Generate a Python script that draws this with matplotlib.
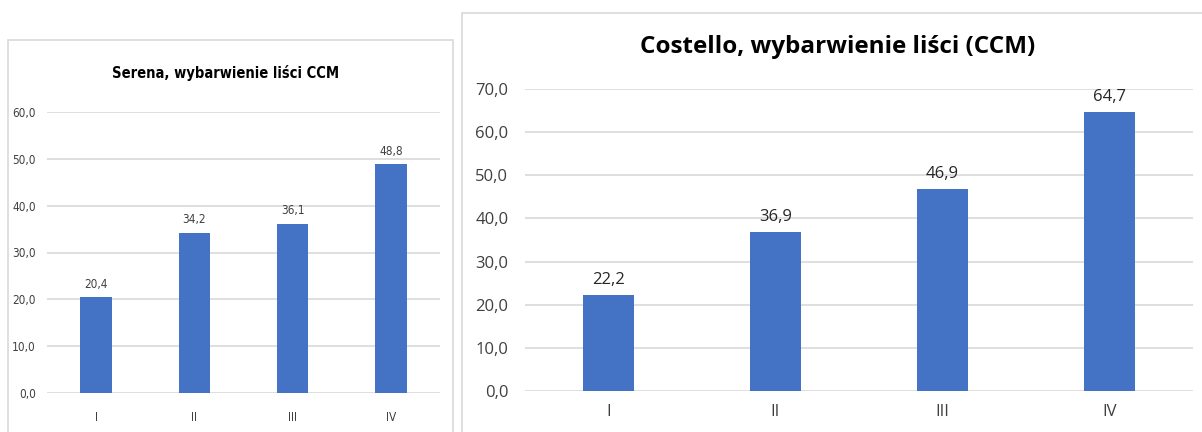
import matplotlib
matplotlib.use("Agg")
import matplotlib.pyplot as plt
from matplotlib.patches import Rectangle

categories = ["I", "II", "III", "IV"]
serena_values = [20.4, 34.2, 36.1, 48.8]
costello_values = [22.2, 36.9, 46.9, 64.7]
serena_title = "Serena, wybarwienie liści CCM"
costello_title = "Costello, wybarwienie liści (CCM)"

W, H = 1202, 432
fig = plt.figure(figsize=(W / 100, H / 100), dpi=100)
fig.patch.set_facecolor("white")

def px_rect(x0, y0, x1, y1):
    return [x0 / W, 1 - y1 / H, (x1 - x0) / W, (y1 - y0) / H]

# chart boxes
for (x0, y0, x1, y1) in [(8, 40, 453, 440), (462, 13, 1210, 440)]:
    fig.patches.append(Rectangle((x0 / W, 1 - y1 / H), (x1 - x0) / W, (y1 - y0) / H,
                                 transform=fig.transFigure, fill=False,
                                 edgecolor="#d9d9d9", linewidth=1.2))

bar_color = "#4472c4"
grid_color = "#d9d9d9"

def draw(ax, values, ymax, fam, stretch, tick_fs, label_fs, xtick_pad, ytick_pad,
         width, tcolor, lcolor):
    x = range(len(categories))
    ax.bar(x, values, width=width, color=bar_color, zorder=3)
    ax.set_ylim(0, ymax)
    ax.set_xlim(-0.5, len(categories) - 0.5)
    ax.set_yticks(range(0, ymax + 1, 10))
    ax.set_yticklabels([f"{v},0" for v in range(0, ymax + 1, 10)],
                       fontsize=tick_fs, color=tcolor, family=fam, fontstretch=stretch)
    ax.set_xticks(list(x))
    ax.set_xticklabels(categories, fontsize=tick_fs, color=tcolor, family=fam,
                       fontstretch=stretch)
    ax.tick_params(axis="both", length=0)
    ax.tick_params(axis="x", pad=xtick_pad)
    ax.tick_params(axis="y", pad=ytick_pad)
    ax.grid(axis="y", color=grid_color, linewidth=1.2, zorder=0)
    ax.set_axisbelow(True)
    for s in ax.spines.values():
        s.set_visible(False)
    for i, v in enumerate(values):
        ax.annotate(f"{v:.1f}".replace(".", ","), (i, v), xytext=(0, 5),
                    textcoords="offset points", ha="center", va="bottom",
                    fontsize=label_fs, color=lcolor, family=fam, fontstretch=stretch)

ax1 = fig.add_axes(px_rect(47, 112, 440, 393))
draw(ax1, serena_values, 60, "DejaVu Sans", "condensed", 8.5, 8.5, 13, 8, 0.32,
     "#404040", "#404040")
fig.text(226 / W, 1 - 73 / H, serena_title, ha="center", va="center",
         fontsize=10.5, fontweight="bold", family="DejaVu Sans", fontstretch="condensed",
         color="#000000")

ax2 = fig.add_axes(px_rect(525, 89, 1193, 391))
draw(ax2, costello_values, 70, ["Open Sans", "DejaVu Sans"], "normal", 12, 12, 9, 12, 0.31,
     "#404040", "#262626")
fig.text(838 / W, 1 - 47 / H, costello_title, ha="center", va="center",
         fontsize=17.5, fontweight="bold", family=["Open Sans", "DejaVu Sans"],
         color="#000000")

fig.savefig("out.png", dpi=100, facecolor="white")
